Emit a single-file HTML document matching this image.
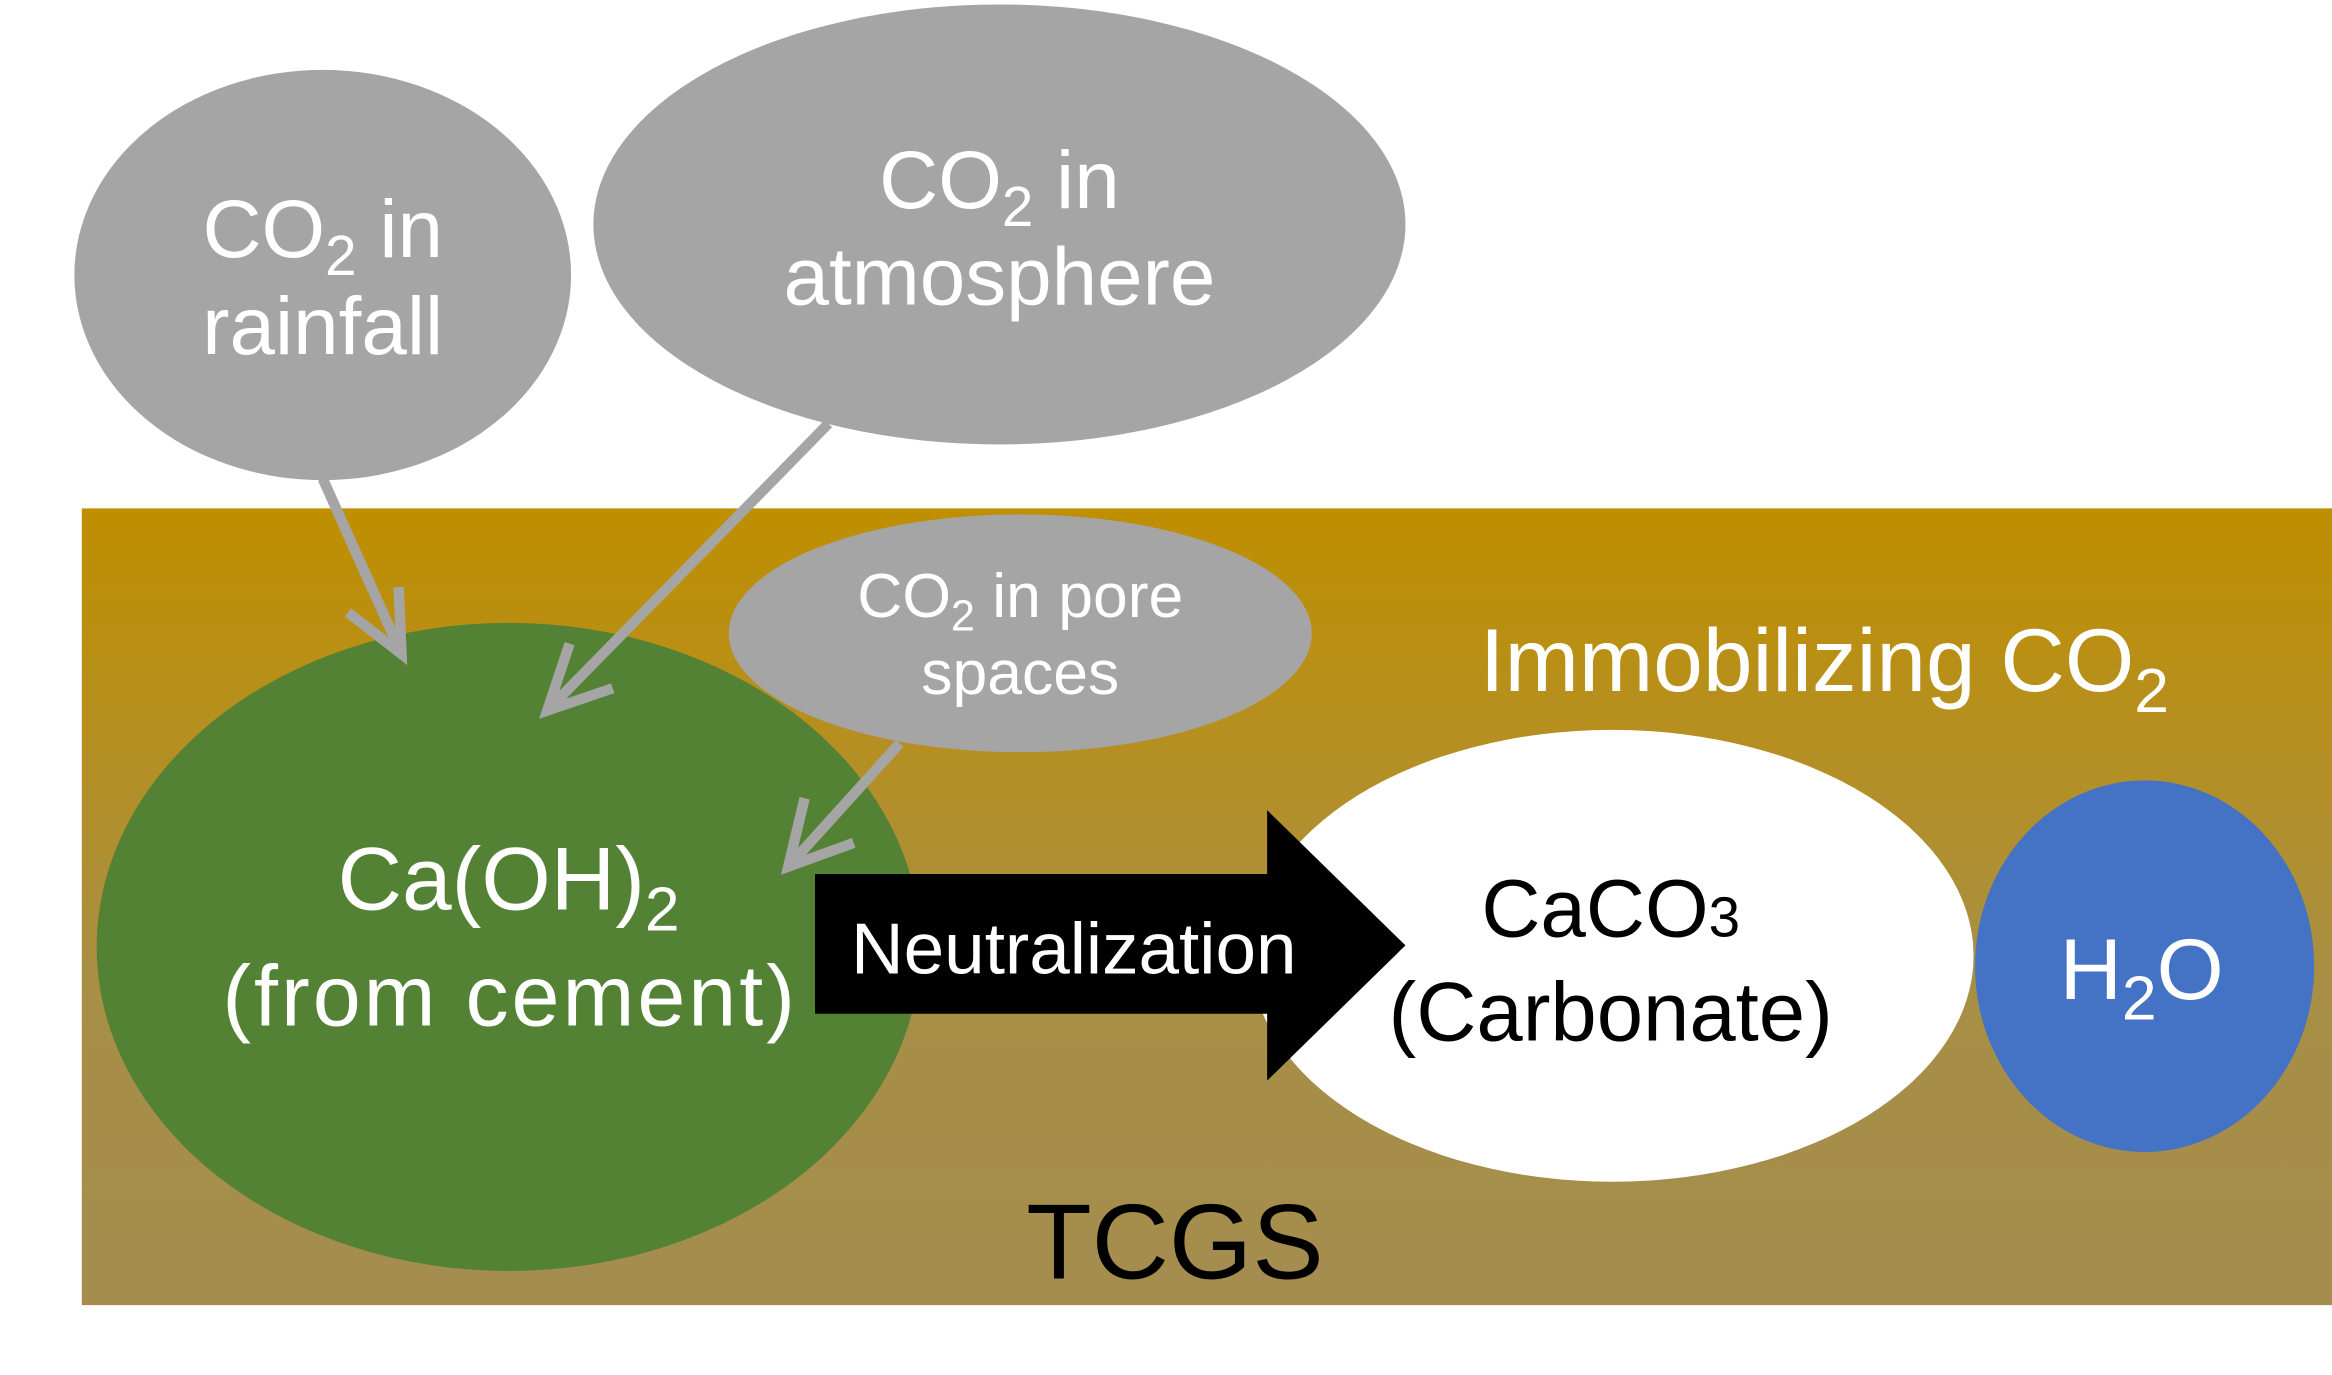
<!DOCTYPE html>
<html><head><meta charset="utf-8"><style>
html,body{margin:0;padding:0;background:#fff;width:2332px;height:1375px;overflow:hidden}
svg{display:block}
text{font-family:"Liberation Sans",sans-serif}
</style></head><body>
<svg width="2332" height="1375" viewBox="0 0 1568 925" preserveAspectRatio="none" xmlns="http://www.w3.org/2000/svg">
<defs>
<linearGradient id="g" x1="0" y1="0" x2="0" y2="1">
<stop offset="0" stop-color="#bf8f00"/>
<stop offset="0.3" stop-color="#b58f22"/>
<stop offset="0.6" stop-color="#a88f45"/>
<stop offset="1" stop-color="#a48d4f"/>
</linearGradient>
</defs>
<rect x="55" y="342" width="1513" height="536" fill="url(#g)"/>
<ellipse cx="217" cy="185" rx="167" ry="138" fill="#a5a5a5"/>
<ellipse cx="672" cy="151" rx="273" ry="148" fill="#a5a5a5"/>
<ellipse cx="342" cy="637" rx="277" ry="218" fill="#548235"/>
<ellipse cx="686" cy="426" rx="196" ry="80" fill="#a5a5a5"/>
<ellipse cx="1084" cy="643" rx="243" ry="152" fill="#ffffff"/>
<ellipse cx="1442" cy="650" rx="114" ry="125" fill="#4472c4"/>
<polygon points="548,588 852,588 852,545 945,636 852,727 852,682 548,682" fill="#000"/>
<g stroke="#a5a5a5" stroke-width="7" fill="none" stroke-linecap="butt">
<line x1="217" y1="322" x2="270" y2="440"/>
<polyline points="234,412 270,440 268,395"/>
<line x1="557" y1="285" x2="368" y2="478"/>
<polyline points="383,433 368,478 412,463"/>
<line x1="605" y1="500" x2="530" y2="583"/>
<polyline points="541,537 530,583 574,567"/>
</g>
<g fill="#fff" text-anchor="middle">
<text x="217" y="173" font-size="55">CO<tspan font-size="38" dy="12">2</tspan><tspan dy="-12"> in</tspan></text>
<text x="217" y="238" font-size="55">rainfall</text>
<text x="672" y="140" font-size="55">CO<tspan font-size="38" dy="12">2</tspan><tspan dy="-12"> in</tspan></text>
<text x="672" y="205" font-size="55">atmosphere</text>
<text x="686" y="415" font-size="42">CO<tspan font-size="29" dy="9">2</tspan><tspan dy="-9"> in pore</tspan></text>
<text x="686" y="467" font-size="42">spaces</text>
<text x="342" y="612" font-size="60">Ca(OH)<tspan font-size="42" dy="14">2</tspan></text>
<text x="342" y="690" font-size="58" textLength="385">(from cement)</text>
<text x="722" y="655" font-size="49">Neutralization</text>
<text x="1440" y="672" font-size="58">H<tspan font-size="42" dy="14">2</tspan><tspan dy="-14">O</tspan></text>
</g>
<text x="995" y="465" font-size="60" fill="#fff">Immobilizing CO<tspan font-size="42" dy="14">2</tspan></text>
<g fill="#000" text-anchor="middle">
<text x="1083" y="630" font-size="55">CaCO<tspan font-size="38">3</tspan></text>
<text x="1083" y="700" font-size="56">(Carbonate)</text>
<text x="790" y="860" font-size="72">TCGS</text>
</g>
</svg>
</body></html>
